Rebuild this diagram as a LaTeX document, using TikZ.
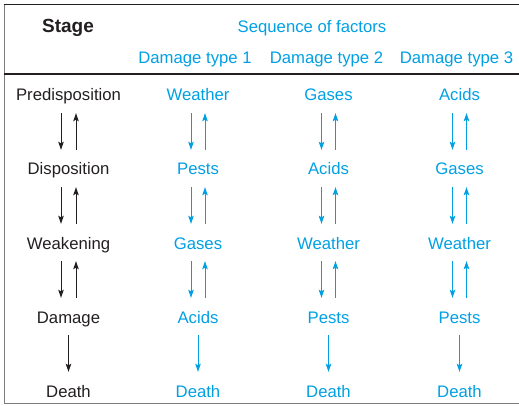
\documentclass[tikz,border=0pt]{standalone}
\usepackage{fontspec}
\setmainfont{Liberation Sans}
\usetikzlibrary{arrows.meta}
\definecolor{ink}{RGB}{35,31,32}
\definecolor{factor}{RGB}{0,160,227}
\definecolor{framegrey}{RGB}{125,125,125}
\begin{document}
\begin{tikzpicture}[x=1pt,y=-1pt,
  cell/.style={font=\fontsize{16.7}{20}\selectfont, inner sep=0pt,
    text height=12pt, text depth=3.5pt, anchor=base},
  stagecell/.style={cell, text=ink},
  factorcell/.style={cell, text=factor},
  tip/.style={-{Stealth[length=8pt,width=5.5pt,inset=1.5pt]}, line width=1pt},
  down/.style={tip, shorten <=8.5pt, shorten >=13pt},
  up/.style={tip, shorten <=13pt, shorten >=8.5pt},
]
\useasboundingbox (0,0) rectangle (519,406);

% frame (open on the right) and header rule
\draw[framegrey, line width=1.5pt] (4.5,4) -- (4.5,403.5) -- (519,403.5);
\draw[ink, line width=1.6pt] (3.75,4.5) -- (519,4.5);
\draw[ink, line width=1.6pt] (3.75,74) -- (519,74);

% header
\node[stagecell, font=\fontsize{19}{22}\selectfont\bfseries] (hstage) at (68,33) {Stage};
\node[factorcell] (hseq) at (312,33) {Sequence of factors};
\node[factorcell] (h1) at (195,64) {Damage type 1};
\node[factorcell] (h2) at (326.5,64) {Damage type 2};
\node[factorcell] (h3) at (456.5,64) {Damage type 3};

% stage column
\foreach \lbl [count=\i] in {Predisposition,Disposition,Weakening,Damage,Death}
  \node[stagecell] (s\i) at (68.5,{101+74*(\i-1)}) {\lbl};

% factor columns
\foreach \lbl [count=\i] in {Weather,Pests,Gases,Acids,Death}
  \node[factorcell] (a\i) at (198,{101+74*(\i-1)}) {\lbl};
\foreach \lbl [count=\i] in {Gases,Acids,Weather,Pests,Death}
  \node[factorcell] (b\i) at (328.5,{101+74*(\i-1)}) {\lbl};
\foreach \lbl [count=\i] in {Acids,Gases,Weather,Pests,Death}
  \node[factorcell] (c\i) at (459.5,{101+74*(\i-1)}) {\lbl};

% two-way links between the first four stages
\foreach \i [evaluate=\i as \j using int(\i+1)] in {1,2,3} {
  \draw[down, ink] ([xshift=-7.5pt]s\i.south) -- ([xshift=-7.5pt]s\j.north);
  \draw[up, ink] ([xshift=7.5pt]s\j.north) -- ([xshift=7.5pt]s\i.south);
  \foreach \c in {a,b,c} {
    \draw[down, factor] ([xshift=-7pt]\c\i.south) -- ([xshift=-7pt]\c\j.north);
    \draw[up, factor] ([xshift=7pt]\c\j.north) -- ([xshift=7pt]\c\i.south);
  }
}

% one-way link to death
\draw[down, ink] (s4.south) -- (s5.north);
\foreach \c in {a,b,c}
  \draw[down, factor] (\c4.south) -- (\c5.north);
\end{tikzpicture}
\end{document}
